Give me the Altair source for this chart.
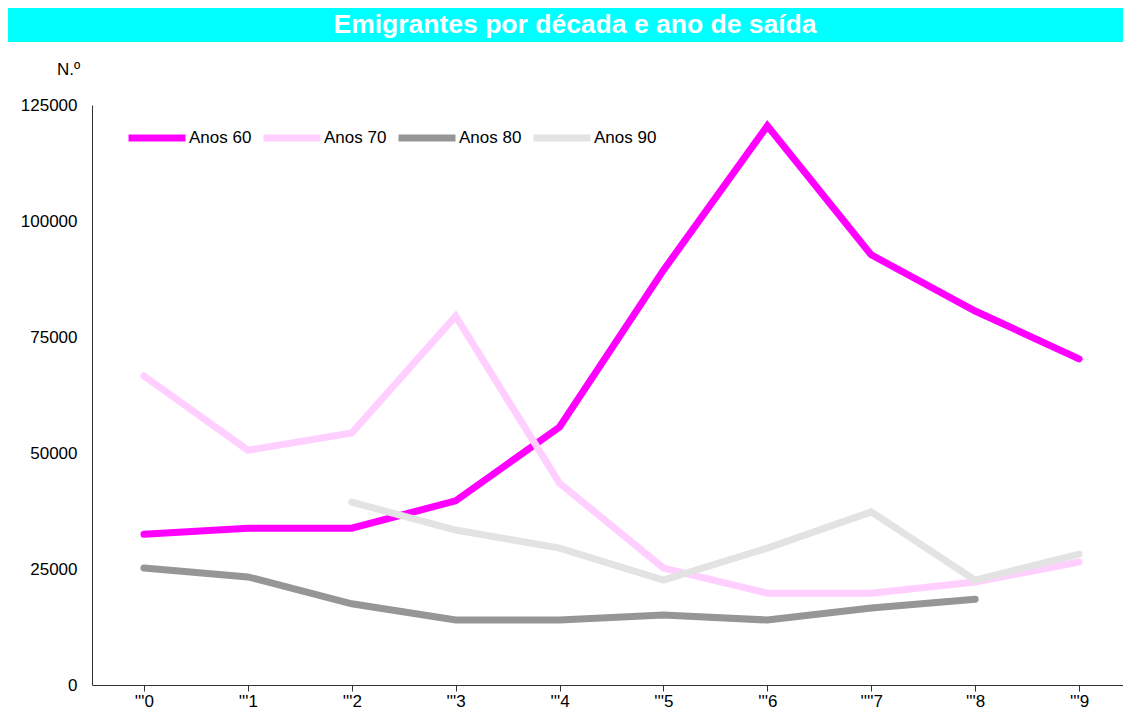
import altair as alt
import pandas as pd

anos = ["'''0", "'''1", "'''2", "'''3", "'''4", "'''5", "'''6", "''''7", "'''8", "'''9"]
series_names = ["Anos 60", "Anos 70", "Anos 80", "Anos 90"]
anos60 = [32500, 33800, 33800, 39700, 55600, 89400, 120500, 92700, 80600, 70300]
anos70 = [66600, 50600, 54300, 79500, 43500, 25200, 19800, 19800, 22200, 26500]
anos80 = [25200, 23300, 17500, 14000, 14000, 15100, 14000, 16600, 18500, None]
anos90 = [None, None, 39400, 33400, 29500, 22600, 29500, 37300, 22600, 28200]
colors = ["#FF00FF", "#FFD0FF", "#969696", "#E3E3E3"]
title_text = "Emigrantes por década e ano de saída"
y_ticks = [0, 25000, 50000, 75000, 100000, 125000]

rows = []
for name, vals in zip(series_names, [anos60, anos70, anos80, anos90]):
    for a, v in zip(anos, vals):
        if v is not None:
            rows.append({"ano": a, "serie": name, "valor": v})
df = pd.DataFrame(rows)

W, H = 1031, 580
XR = 1039
FONT = "Liberation Sans"

lines = alt.Chart(df).mark_line(strokeWidth=7, strokeCap="round", strokeJoin="miter").encode(
    x=alt.X("ano:N", sort=anos,
            scale=alt.Scale(paddingInner=0, paddingOuter=0, range=[0, XR]),
            axis=alt.Axis(title=None, labelAngle=0, bandPosition=0, tickSize=6,
                          labelPadding=2, labelFontSize=17, labelFont=FONT,
                          labelColor="black", domainColor="#333", tickColor="#333",
                          grid=False)),
    y=alt.Y("valor:Q", scale=alt.Scale(domain=[0, 125000], nice=False),
            axis=alt.Axis(values=y_ticks, format="d", title="N.º", titleAngle=0,
                          titleX=-24, titleY=-36, titleAlign="center",
                          titleBaseline="middle", titleFontSize=17,
                          titleFontWeight="normal", titleFont=FONT,
                          labelFontSize=17, labelFont=FONT, labelColor="black",
                          labelPadding=15, ticks=False, grid=False,
                          domainColor="#333")),
    color=alt.Color("serie:N", scale=alt.Scale(domain=series_names, range=colors),
                    legend=alt.Legend(title=None, orient="none", legendX=33, legendY=1,
                                      direction="horizontal", columns=4,
                                      symbolType="stroke", symbolSize=3249,
                                      symbolStrokeWidth=7, labelOffset=0,
                                      columnPadding=-3, labelFontSize=17,
                                      labelFont=FONT, labelColor="black")),
)

deco = alt.Data(values=[{"k": 1}])
band = alt.Chart(deco).mark_rect(color="#00FFFF").encode(
    x=alt.value(-89), x2=alt.value(XR), y=alt.value(-97), y2=alt.value(-63)
)
title = alt.Chart(deco).mark_text(text=title_text, font=FONT, fontSize=26.5,
                                  fontWeight="bold", color="white",
                                  align="center", baseline="middle").encode(
    x=alt.value(483), y=alt.value(-80)
)

chart = alt.layer(band, title, lines).properties(
    width=W, height=H,
    autosize=alt.AutoSizeParams(type="none"),
    padding={"left": 84, "top": 97, "right": 0, "bottom": 24},
).configure_view(stroke=None)

chart.save("out.html", embed_options={"renderer": "svg", "actions": False})
